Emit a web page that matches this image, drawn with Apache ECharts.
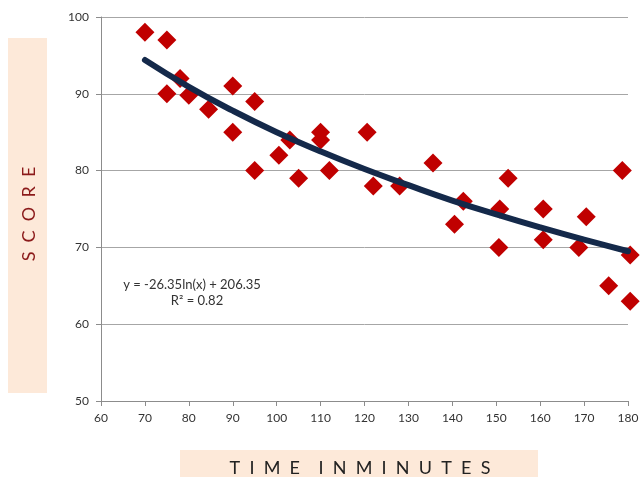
<!DOCTYPE html>
<html>
<head>
<meta charset="utf-8">
<script src="https://cdn.jsdelivr.net/npm/echarts@6/dist/echarts.min.js"></script>
<style>html,body{margin:0;padding:0;background:#fff;}#c{width:643px;height:477px;}</style>
</head>
<body>
<div id="c"></div>
<script>
// Scatter data: time in minutes, score
const timeMinutes = [70, 75, 78, 75, 80, 84.5, 90, 90, 95, 95, 100.5, 103, 105, 110, 110, 112, 120.6, 122, 128, 135.6, 140.5, 142.5, 150.8, 150.6, 152.7, 160.7, 160.7, 168.8, 170.5, 178.7, 180.5, 175.6, 180.5];
const scores      = [98, 97, 92, 90, 89.8, 88, 91, 85, 89, 80, 82, 84, 79, 85, 84, 80, 85, 78, 78, 81, 73, 76, 75, 70, 79, 75, 71, 70, 74, 80, 69, 65, 63];
// Logarithmic trendline values
const trendX = [70, 80, 90, 100, 110, 120, 130, 140, 150, 160, 170, 180];
const trendY = [94.4, 90.9, 87.8, 85.0, 82.5, 80.2, 78.1, 76.1, 74.3, 72.6, 71.0, 69.5];
const xTicks = [60, 70, 80, 90, 100, 110, 120, 130, 140, 150, 160, 170, 180];
const yTicks = [50, 60, 70, 80, 90, 100];
const equationText = 'y = -26.35ln(x) + 206.35';
const r2Text = 'R² = 0.82';
const yTitle = 'S  C  O  R  E';
const xTitle = 'T  I  M  E    I  N  M  I  N  U  T  E  S';

const chart = echarts.init(document.getElementById('c'), null, {renderer: 'canvas'});
const FONT = 'Lato, "Open Sans", sans-serif';
chart.setOption({
  animation: false,
  backgroundColor: '#ffffff',
  grid: {left: 101, right: 15, top: 17, bottom: 76},
  xAxis: {
    type: 'value', min: xTicks[0], max: xTicks[xTicks.length - 1], interval: 10,
    axisLine: {show: true, lineStyle: {color: '#8c8c8c', width: 1}},
    axisTick: {show: true, inside: false, length: 5, lineStyle: {color: '#8c8c8c'}},
    axisLabel: {color: '#333', fontFamily: FONT, fontSize: 12, margin: 11},
    splitLine: {show: false}
  },
  yAxis: {
    type: 'value', min: yTicks[0], max: yTicks[yTicks.length - 1], interval: 10,
    axisLine: {show: true, lineStyle: {color: '#8c8c8c', width: 1}},
    axisTick: {show: true, inside: false, length: 5, lineStyle: {color: '#8c8c8c'}},
    axisLabel: {color: '#333', fontFamily: FONT, fontSize: 12, margin: 12},
    splitLine: {show: true, lineStyle: {color: '#a6a6a6', width: 1}}
  },
  series: [
    {
      type: 'scatter', clip: false, z: 2,
      symbol: 'diamond', symbolSize: 19,
      itemStyle: {color: '#c00000', opacity: 1},
      data: timeMinutes.map((t, i) => [t, scores[i]])
    },
    {
      type: 'line', smooth: true, showSymbol: false, z: 3,
      lineStyle: {color: '#14294a', width: 6, cap: 'round'},
      data: trendX.map((t, i) => [t, trendY[i]])
    }
  ],
  graphic: [
    {type: 'rect', left: 8, top: 38, shape: {width: 39, height: 355}, style: {fill: '#fde9d9'}, silent: true},
    {type: 'text', x: 29, y: 214, rotation: Math.PI / 2,
     style: {text: yTitle, fill: '#8b1a1a', font: '18px ' + FONT, align: 'center', verticalAlign: 'middle'}},
    {type: 'rect', left: 180, top: 450, shape: {width: 358, height: 30}, style: {fill: '#fde9d9'}, silent: true},
    {type: 'text', x: 360, y: 468,
     style: {text: xTitle, fill: '#222', font: '18px ' + FONT, align: 'center', verticalAlign: 'middle'}},
    {type: 'text', x: 192, y: 285,
     style: {text: equationText, fill: '#333', font: '13px ' + FONT, align: 'center', verticalAlign: 'middle'}},
    {type: 'text', x: 197, y: 301,
     style: {text: r2Text, fill: '#333', font: '13px ' + FONT, align: 'center', verticalAlign: 'middle'}}
  ]
});
</script>
</body>
</html>
